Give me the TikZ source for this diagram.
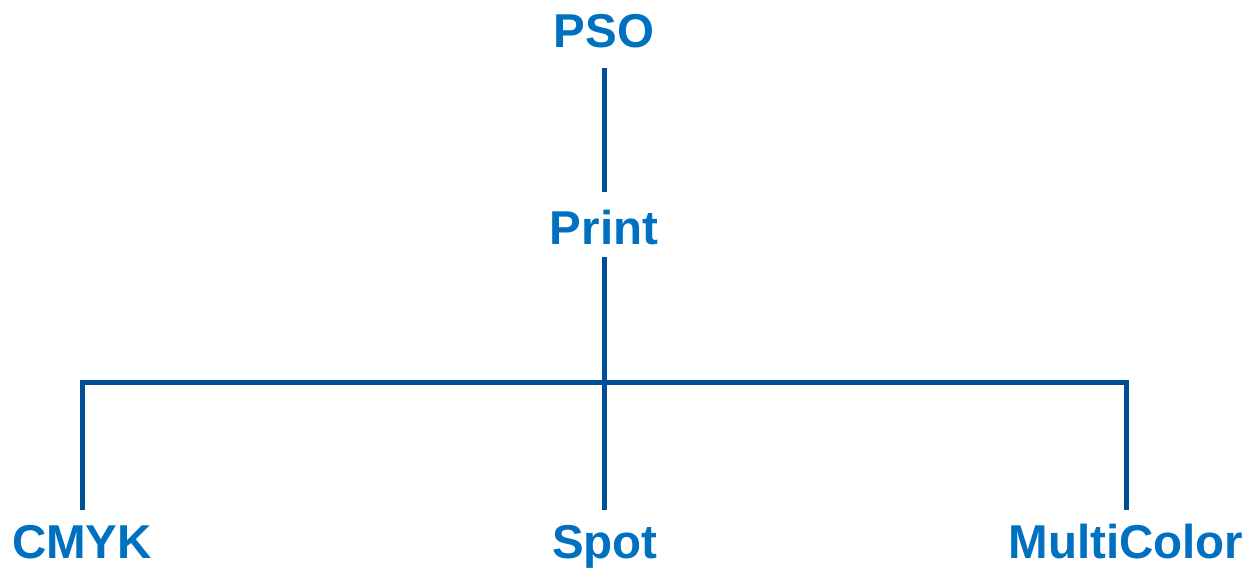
\documentclass[tikz,border=0pt]{standalone}
\usepackage{fontspec}
\setmainfont{Liberation Sans}
\definecolor{txtblue}{HTML}{0070C0}
\definecolor{lineblue}{HTML}{004E96}
\begin{document}
\begin{tikzpicture}[x=1pt,y=-1pt,
  lbl/.style={font=\fontsize{47.5}{56}\selectfont\bfseries, text=txtblue, anchor=base, inner xsep=0pt, inner ysep=0pt, text height=34pt, text depth=0pt},
  conn/.style={draw=lineblue, line width=5pt, line join=miter}]
\useasboundingbox (0,0) rectangle (1249,569);
\node[lbl] (pso) at (604,48) {PSO};
\node[lbl] (print) at (604,244) {Print};
\node[lbl] (cmyk) at (82,558) {CMYK};
\node[lbl] (spot) at (605,558) {Spot};
\node[lbl] (multi) at (1126,558) {MultiColor};
\coordinate (j) at (604,382);
\draw[conn, shorten <=20pt, shorten >=18pt] (pso.south -| j) -- (print.north -| j);
\draw[conn, shorten <=13pt, shorten >=14pt] (print.south -| j) -- (spot.north -| j);
\draw[conn, shorten <=14pt, shorten >=14pt] (cmyk.north) -- (cmyk.north |- j) -- (multi.north |- j) -- (multi.north);
\end{tikzpicture}
\end{document}
